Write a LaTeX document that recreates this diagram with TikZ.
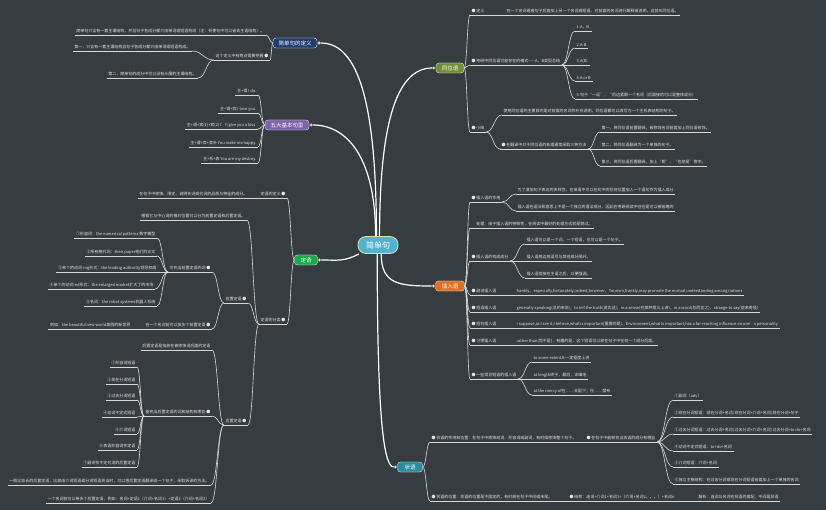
\documentclass[tikz,border=0pt]{standalone}
\usepackage{fontspec}
\setmainfont{Noto Sans CJK SC}
\usetikzlibrary{calc}
\definecolor{bg}{HTML}{373C40}
\definecolor{txt}{HTML}{E4E4E4}
\definecolor{lc}{HTML}{D8D8D8}
\definecolor{cfill}{HTML}{52B3CF}
\definecolor{cdraw}{HTML}{D9E2AA}
\definecolor{navy}{HTML}{1F3D70}
\definecolor{purp}{HTML}{7D62A8}
\definecolor{grn}{HTML}{17A94B}
\definecolor{olive}{HTML}{6E8E3A}
\definecolor{orng}{HTML}{E0701F}
\definecolor{teal}{HTML}{2B8B9F}
\newcommand\cn[2]{\draw[br] let \p1=(#1), \p2=(#2) in (\p1) .. controls ({(\x1+\x2)/2},\y1) and ({(\x1+\x2)/2},\y2) .. (\p2);}
\tikzset{
  lt/.style={anchor=south east, inner xsep=1.5pt, inner ysep=1.5pt, text=txt, font=\fontsize{4}{5}\selectfont},
  rt/.style={lt, anchor=south west},
  mainb/.style={rounded corners=3pt, text=white, font=\fontsize{5.5}{6}\selectfont, minimum height=10pt, inner xsep=4pt, inner ysep=1pt, draw=white!55, line width=0.3pt},
  dotn/.style={circle, fill=white, draw=gray, line width=0.3pt, inner sep=0pt, minimum size=3pt},
  br/.style={draw=lc, line width=0.6pt},
  mainc/.style={draw=white, line width=1.2pt},
  ul/.style={draw=lc, line width=0.6pt}
}
\begin{document}
\begin{tikzpicture}[x=1pt,y=-1pt]
\fill[bg] (0,0) rectangle (826,510);
\useasboundingbox (0,0) rectangle (826,510);

% centre and main branches
\node[rounded corners=8pt, fill=cfill, draw=cdraw, line width=0.8pt, minimum width=40pt, minimum height=17pt, text=white, font=\fontsize{8}{9}\selectfont] (c) at (378,245) {简单句};
\node[mainb, fill=navy, minimum width=44pt] (d0) at (295,43) {简单句的定义};
\node[mainb, fill=purp, minimum width=44pt] (w0) at (287,125) {五大基本句型};
\node[mainb, fill=grn, minimum width=23pt] (a0) at (306,260) {定语};
\node[mainb, fill=olive, minimum width=28pt] (t0) at (450,68) {同位语};
\node[mainb, fill=orng, minimum width=29pt] (c0) at (450,286) {插入语};
\node[mainb, fill=teal, minimum width=25pt] (s0) at (410,467) {状语};

\node[dotn] (d0d) at ([xshift=2pt]d0.east) {};
\node[dotn] (w0d) at ([xshift=2pt]w0.east) {};
\node[dotn] (a0d) at ([xshift=2pt]a0.east) {};
\node[dotn] (t0d) at ([xshift=-2pt]t0.west) {};
\node[dotn] (c0d) at ([xshift=-2pt]c0.west) {};
\node[dotn] (s0d) at ([xshift=-2pt]s0.west) {};

\draw[mainc] (c.100) .. controls +(0,-130) and +(40,0) .. (d0d);
\draw[mainc] (c.105) .. controls +(0,-80) and +(35,0) .. (w0d);
\draw[mainc] (c.80) .. controls +(0,-120) and +(-35,0) .. (t0d);
\draw[mainc] (c.205) .. controls +(-15,8) and +(18,0) .. (a0d);
\draw[mainc] (c.290) .. controls +(0,30) and +(-35,0) .. (c0d);
\draw[mainc] (c.265) .. controls +(0,160) and +(-12,0) .. (s0d);

% ---- 简单句的定义
\node[lt] (d1) at (266,35) {简单句只含有一套主谓结构，并且句子各成分都只由单词或短语构成（注：祈使句中可以省去主语结构）。};
\node[lt] (d2) at (270,60) {这个定义中有两点需要把握\,●};
\node[lt] (d21) at (192,51) {第一，只含有一套主谓结构且句子各成分都只由单词或短语构成。};
\node[lt] (d22) at (198,78) {第二，简单句的成分中可以没有从属的主谓结构。};

% ---- 五大基本句型
\node[lt] (w1) at (258,95) {主+谓 I do.};
\node[lt] (w2) at (258,113) {主+谓+宾 I love you.};
\node[lt] (w3) at (258,129) {主+谓+宾(1)+宾(2) I'll give you a kiss.};
\node[lt] (w4) at (258,147) {主+谓+宾+宾补 You make me happy.};
\node[lt] (w5) at (258,163) {主+系+表 You are my destiny.};

% ---- 定语
\node[lt] (a1) at (287,198) {定语的定义\,●};
\node[lt] (a11) at (249,198) {在句子中修饰、限定、说明名词或代词的品质与特征的成分。};
\node[lt] (a2) at (287,324) {定语的分类\,●};
\node[lt] (a21) at (247,220) {根据它与中心词的相对位置可以分为前置定语和后置定语。};
\node[lt] (a22) at (248,303) {前置定语\,●};
\node[lt] (a221) at (212,272) {可充当前置定语的词\,●};
\node[lt] (a2211) at (157,238) {①形容词：the numerical patterns 数字模型};
\node[lt] (a2212) at (157,256) {②所有格代词：their paper他们的论文};
\node[lt] (a2213) at (158,272) {③单个的动词-ing形式：the leading authority领导权威};
\node[lt] (a2214) at (155,289) {④单个的动词-ed形式：the enlarged market扩大了的市场};
\node[lt] (a2215) at (157,306) {⑤名词：the robot systems机器人系统};
\node[lt] (a222) at (212,329) {在一个名词前可以放多个前置定语\,●};
\node[lt] (a2221) at (132,329) {例如：the beautiful new world美丽的新世界};
\node[lt] (a23) at (248,425) {后置定语\,●};
\node[lt] (a231) at (212,350) {后置定语是指放在被修饰词后面的定语};
\node[lt] (a232) at (212,416) {能充当后置定语的词和结构有哪些\,●};
\node[lt] (a2321) at (137,367) {①形容词短语};
\node[lt] (a2322) at (137,384) {②现在分词短语};
\node[lt] (a2323) at (137,400) {③过去分词短语};
\node[lt] (a2324) at (137,417) {④动词不定式短语};
\node[lt] (a2325) at (137,434) {⑤介词短语};
\node[lt] (a2326) at (137,450) {⑥表语形容词作定语};
\node[lt] (a2327) at (137,467) {⑦副词作不定代词的后置定语};
\node[lt] (a233) at (211,485) {一般比较长的后置定语，比如由介词短语或分词短语充当时，可以把后置定语翻译成一个句子，采取拆译的方法。};
\node[lt] (a234) at (211,503) {一个名词前可以带多个后置定语，例如：名词+定语1（介词+名词1）+定语2（介词+名词2）};

% ---- 同位语
\node[rt] (t1) at (470,15) {●\,定义};
\node[rt] (t11) at (505,15) {在一个名词或者句子后面加上另一个名词或短语，对前面的名词进行解释或说明，这就叫同位语。};
\node[rt] (t2) at (470,65) {●\,考研中同位语可能存在的模式——A，B类型总结};
\node[rt] (t21) at (575,31) {1.A，B.};
\node[rt] (t22) at (575,48) {2.A-B};
\node[rt] (t23) at (575,65) {3.A(B)};
\node[rt] (t24) at (575,81) {4.A or B};
\node[rt] (t25) at (575,99) {5.句子“一逗”，“后边紧跟一个名词（后面接的可以是整体成分）};
\node[rt] (t3) at (470,132) {●\,小结};
\node[rt] (t31) at (502,115) {使用同位语的主要目的是对前面的名词作补充说明，同位语都可以改写为一个主系表结构的句子。};
\node[rt] (t32) at (500,149) {●\,在翻译中对于同位语的处理通常采取三种方法};
\node[rt] (t321) at (600,132) {第一，将同位语前置翻译，被修饰名词前面加上同位语修饰。};
\node[rt] (t322) at (600,149) {第二，将同位语翻译为一个单独的句子。};
\node[rt] (t323) at (600,166) {第三，将同位语后置翻译，加上“即”、“也就是”等字。};

% ---- 插入语
\node[rt] (c1) at (470,202) {●\,插入语的作用};
\node[rt] (c11) at (516,194) {为了增加句子表达的多样性，在英语中可以在句中的任何位置加入一个语句作为插入成分};
\node[rt] (c12) at (516,211) {插入语在语法和意思上不是一个独立的语法成分，因此在考研阅读中往往是可以被省略的};
\node[rt] (c2) at (470,228) {\phantom{●}\,处理：由于插入语的特殊性，在阅读中最好的处理方式就是跳过。};
\node[rt] (c3) at (470,261) {●\,插入语的构成成分};
\node[rt] (c31) at (525,244) {插入语可以是一个词、一个短语，也可以是一个句子。};
\node[rt] (c32) at (525,261) {插入语两边用逗号与其他成分隔开。};
\node[rt] (c33) at (525,278) {插入语常放在主语之后，以便强调。};
\node[rt] (c4) at (470,295) {●\,副词插入语};
\node[rt] (c41) at (515,295) {frankly、especially,fortunately,indeed,however、Tourism,frankly,may promote the mutual understanding among nations};
\node[rt] (c5) at (470,312) {●\,短语插入语};
\node[rt] (c51) at (515,312) {generally speaking(总的来说)，to tell the truth(说实话)，in a sense(在某种意义上讲)，in a word(总而言之)，strange to say(说来奇怪)};
\node[rt] (c6) at (470,328) {●\,短句插入语};
\node[rt] (c61) at (515,328) {I suppose,as I see it,I believe,what is important(重要的是)，Environment,what is important,has a far-reaching influence on one's personality};
\node[rt] (c7) at (470,345) {●\,习惯插入语};
\node[rt] (c71) at (515,345) {rather than(而不是)，有趣的是，这个短语可以放在句子中任何一个成分后面。};
\node[rt] (c8) at (470,379) {●\,一些常见短语的插入语};
\node[rt] (c81) at (532,362) {to some extent从一定程度上讲};
\node[rt] (c82) at (532,379) {at length终于，最后；详细地};
\node[rt] (c83) at (532,395) {at the mercy of在……支配下；任……摆布};

% ---- 状语
\node[rt] (s1) at (430,442) {●\,状语的作用和位置：在句子中修饰动词、形容词或副词，有时候修饰整个句子。};
\node[rt] (s11) at (585,442) {●\,在句子中能够充当状语的成分有哪些};
\node[rt] (s111) at (673,400) {①副词（adv）};
\node[rt] (s112) at (673,417) {②现在分词短语：现在分词+名词/现在分词+介词+名词/现在分词+句子};
\node[rt] (s113) at (673,434) {③过去分词短语：过去分词+名词/过去分词+介词+名词/过去分词+to do+名词};
\node[rt] (s114) at (673,451) {④动词不定式短语：to+do+名词};
\node[rt] (s115) at (673,467) {⑤介词短语：介词+名词};
\node[rt] (s116) at (673,484) {⑥独立主格结构：在过去分词或现在分词短语前面加上一个单独的名词};
\node[rt] (s2) at (430,501) {●\,状语的位置：状语的位置是不固定的，有时放在句子中间或末尾。};
\node[rt] (s21) at (568,501) {●\,结构：连词+介词1+名词1+（介词+名词2。。。）+名词n};
\node[rt] (s211) at (697,501) {解析：连词与名词在状语的搭配，中间是状语};

% underlines
\foreach \k in {d1,d2,d21,d22,w1,w2,w3,w4,w5,a1,a11,a2,a21,a22,a221,a2211,a2212,a2213,a2214,a2215,a222,a2221,a23,a231,a232,a2321,a2322,a2323,a2324,a2325,a2326,a2327,a233,a234,t1,t11,t2,t21,t22,t23,t24,t25,t3,t31,t32,t321,t322,t323,c1,c11,c12,c2,c3,c31,c32,c33,c4,c41,c5,c51,c6,c61,c7,c71,c8,c81,c82,c83,s1,s11,s111,s112,s113,s114,s115,s116,s2,s21,s211}
  {\draw[ul] (\k.south west) -- (\k.south east);}

% connectors, left side
\cn{d0.west}{d1.south east}
\cn{d0.west}{d2.south east}
\cn{d2.south west}{d21.south east}
\cn{d2.south west}{d22.south east}
\foreach \k in {w1,w2,w3,w4,w5} {\cn{w0.west}{\k.south east}}
\cn{a0.west}{a1.south east}
\cn{a0.west}{a2.south east}
\cn{a1.south west}{a11.south east}
\foreach \k in {a21,a22,a23} {\cn{a2.south west}{\k.south east}}
\cn{a22.south west}{a221.south east}
\cn{a22.south west}{a222.south east}
\foreach \k in {a2211,a2212,a2213,a2214,a2215} {\cn{a221.south west}{\k.south east}}
\cn{a222.south west}{a2221.south east}
\foreach \k in {a231,a232,a233,a234} {\cn{a23.south west}{\k.south east}}
\foreach \k in {a2321,a2322,a2323,a2324,a2325,a2326,a2327} {\cn{a232.south west}{\k.south east}}

% connectors, right side
\foreach \k in {t1,t2,t3} {\cn{t0.east}{\k.south west}}
\cn{t1.south east}{t11.south west}
\foreach \k in {t21,t22,t23,t24,t25} {\cn{t2.south east}{\k.south west}}
\cn{t3.south east}{t31.south west}
\cn{t3.south east}{t32.south west}
\foreach \k in {t321,t322,t323} {\cn{t32.south east}{\k.south west}}
\foreach \k in {c1,c2,c3,c4,c5,c6,c7,c8} {\cn{c0.east}{\k.south west}}
\cn{c1.south east}{c11.south west}
\cn{c1.south east}{c12.south west}
\foreach \k in {c31,c32,c33} {\cn{c3.south east}{\k.south west}}
\cn{c4.south east}{c41.south west}
\cn{c5.south east}{c51.south west}
\cn{c6.south east}{c61.south west}
\cn{c7.south east}{c71.south west}
\foreach \k in {c81,c82,c83} {\cn{c8.south east}{\k.south west}}
\cn{s0.east}{s1.south west}
\cn{s0.east}{s2.south west}
\cn{s1.south east}{s11.south west}
\foreach \k in {s111,s112,s113,s114,s115,s116} {\cn{s11.south east}{\k.south west}}
\cn{s2.south east}{s21.south west}
\cn{s21.south east}{s211.south west}
\end{tikzpicture}
\end{document}
